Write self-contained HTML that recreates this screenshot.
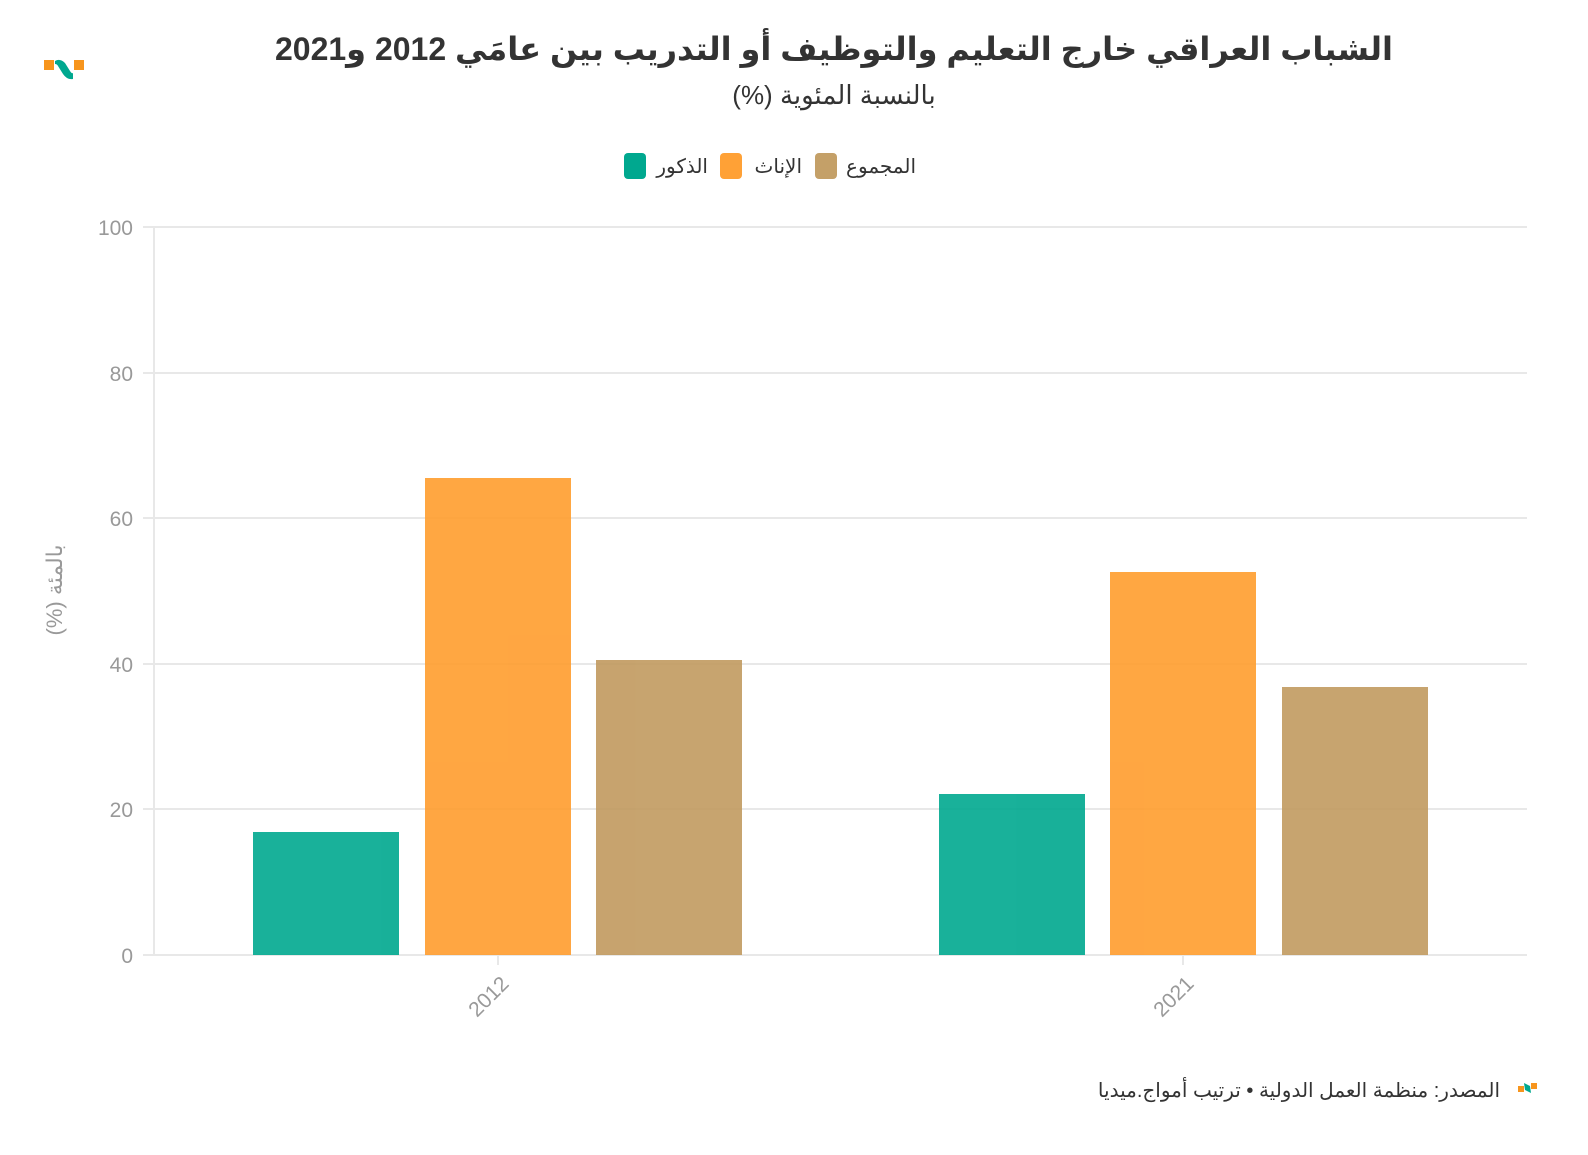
<!DOCTYPE html>
<html><head><meta charset="utf-8"><style>
body{margin:0;background:#fff;}
svg text{font-family:"Liberation Sans","Noto Sans CJK SC","DejaVu Sans",sans-serif;}
</style></head><body>
<svg width="1588" height="1150" xmlns="http://www.w3.org/2000/svg">
<rect width="1588" height="1150" fill="#fff"/>
<rect x="44" y="60" width="10" height="10" fill="#f7951d"/>
<rect x="74" y="60" width="10" height="10" fill="#f7951d"/>
<path d="M55 61 Q60 58 65 63 L70 71 Q72 74 73 73 L73 79 Q67 80 63 74 L58 66 Q57 64 55 64 Z" fill="#00a88f"/>
<text x="834" y="60" text-anchor="middle" font-size="32" font-weight="bold" fill="#333" direction="rtl">الشباب العراقي خارج التعليم والتوظيف أو التدريب بين عامَي 2012 و2021</text>
<text x="834" y="104" text-anchor="middle" font-size="26" fill="#333" direction="rtl">بالنسبة المئوية (%)</text>
<rect x="624" y="153" width="22" height="26" rx="4" fill="#00a88f"/>
<text x="708" y="173" text-anchor="end" font-size="20" fill="#333">الذكور</text>
<rect x="720" y="153" width="22" height="26" rx="4" fill="#ffa136"/>
<text x="802" y="173" text-anchor="end" font-size="20" fill="#333">الإناث</text>
<rect x="815" y="153" width="22" height="26" rx="4" fill="#c4a068"/>
<text x="916" y="173" text-anchor="end" font-size="20" fill="#333">المجموع</text>
<g stroke="#e8e8e8" stroke-width="2">
<line x1="143" y1="227" x2="1527" y2="227"/>
<line x1="143" y1="373" x2="1527" y2="373"/>
<line x1="143" y1="518" x2="1527" y2="518"/>
<line x1="143" y1="664" x2="1527" y2="664"/>
<line x1="143" y1="809" x2="1527" y2="809"/>
<line x1="143" y1="955" x2="1527" y2="955"/>
<line x1="154" y1="227" x2="154" y2="955"/>
<line x1="498" y1="955" x2="498" y2="965"/>
<line x1="1183" y1="955" x2="1183" y2="965"/>
</g>
<g font-size="21" fill="#999" text-anchor="end">
<text x="133" y="235">100</text><text x="133" y="381">80</text><text x="133" y="526">60</text>
<text x="133" y="672">40</text><text x="133" y="817">20</text><text x="133" y="963">0</text>
</g>
<text transform="translate(62,590) rotate(-90)" font-size="22" fill="#999" text-anchor="middle" direction="rtl" unicode-bidi="embed">بالمئة (%)</text>
<text transform="translate(510,985) rotate(-45)" font-size="21" fill="#999" text-anchor="end">2012</text>
<text transform="translate(1195,985) rotate(-45)" font-size="21" fill="#999" text-anchor="end">2021</text>
<g opacity="0.9">
<rect x="253" y="832" width="146" height="123" fill="#00a88f"/>
<rect x="425" y="478" width="146" height="477" fill="#ff9d2e"/>
<rect x="596" y="660" width="146" height="295" fill="#c19a5f"/>
<rect x="939" y="794" width="146" height="161" fill="#00a88f"/>
<rect x="1110" y="572" width="146" height="383" fill="#ff9d2e"/>
<rect x="1282" y="687" width="146" height="268" fill="#c19a5f"/>
</g>
<text x="1500" y="1097" text-anchor="end" font-size="20" fill="#333">المصدر: منظمة العمل الدولية • ترتيب أمواج.ميديا</text>
<rect x="1518" y="1086" width="6" height="6" fill="#f7951d"/>
<rect x="1531" y="1083" width="6" height="6" fill="#f7951d"/>
<path d="M1524 1083 L1530 1086 L1531 1093 L1525 1090 Z" fill="#00a88f"/>
</svg>
</body></html>
